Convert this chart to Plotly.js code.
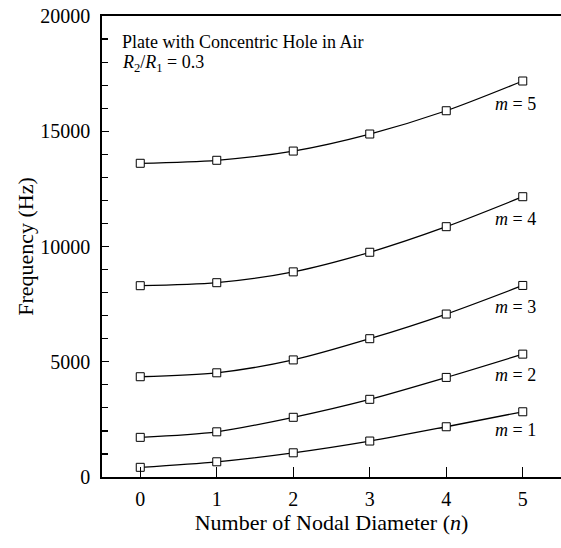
<!DOCTYPE html>
<html>
<head>
<meta charset="utf-8">
<script src="https://cdn.plot.ly/plotly-3.0.1.min.js"></script>
<style>html,body{margin:0;padding:0;background:#fff;}#chart{width:561px;height:548px;}</style>
</head>
<body>
<div id="chart"></div>
<script>
// Number of nodal diameters
const nodalDiameter = [0, 1, 2, 3, 4, 5];
// Frequencies (Hz) for each nodal circle count m
const freqM1 = [420, 660, 1050, 1560, 2180, 2830];
const freqM2 = [1720, 1960, 2590, 3370, 4320, 5330];
const freqM3 = [4350, 4520, 5080, 6000, 7070, 8310];
const freqM4 = [8300, 8430, 8900, 9750, 10860, 12160];
const freqM5 = [13610, 13740, 14140, 14880, 15890, 17180];
const seriesNames = ["m = 1", "m = 2", "m = 3", "m = 4", "m = 5"];
const yTickVals = [0, 5000, 10000, 15000, 20000];
const yTickText = ["0", "5000", "10000", "15000", "20000"];
const xTickVals = [0, 1, 2, 3, 4, 5];

const allSeries = [freqM1, freqM2, freqM3, freqM4, freqM5];
const FONT = "Liberation Serif, Times New Roman, Times, serif";

const traces = allSeries.map((ys, i) => ({
  x: nodalDiameter,
  y: ys,
  name: seriesNames[i],
  type: "scatter",
  mode: "lines+markers",
  line: {color: "#000", width: 1.3, shape: "spline", smoothing: 0.8},
  marker: {symbol: "square", size: 8, color: "#fff", line: {color: "#000", width: 1}},
  showlegend: false,
  hoverinfo: "x+y"
}));

// label positions (data coords) for the m = k labels
const labelY = [2040, 4420, 7380, 11190, 16180];
const annotations = seriesNames.map((name, i) => ({
  x: 4.9, y: labelY[i], xref: "x", yref: "y",
  text: "<i>m</i> = " + (i + 1),
  showarrow: false, xanchor: "center", yanchor: "middle",
  font: {family: FONT, size: 18, color: "#000"}
}));
annotations.push({
  xref: "paper", yref: "paper", x: 0.039, y: 0.943,
  text: "Plate with Concentric Hole in Air",
  showarrow: false, xanchor: "left", yanchor: "middle",
  font: {family: FONT, size: 18, color: "#000"}
});
annotations.push({
  xref: "paper", yref: "paper", x: 0.039, y: 0.898,
  text: "<i>R</i><sub>2</sub>/<i>R</i><sub>1</sub> = 0.3",
  showarrow: false, xanchor: "left", yanchor: "middle",
  font: {family: FONT, size: 18, color: "#000"}
});

const layout = {
  width: 561, height: 548,
  margin: {l: 102, r: 0, t: 16, b: 71, pad: 0},
  paper_bgcolor: "#fff", plot_bgcolor: "#fff",
  font: {family: FONT, color: "#000"},
  xaxis: {
    range: [-0.5, 5.5], tickvals: xTickVals, ticks: "inside", ticklen: 10, tickwidth: 1.3,
    tickcolor: "#000", showline: true, linecolor: "#000", linewidth: 1.8, mirror: true,
    showgrid: false, zeroline: false, tickfont: {family: FONT, size: 20, color: "#000"},
    ticklabelstandoff: 3,
    title: {text: "Number of Nodal Diameter (<i>n</i>)", font: {family: FONT, size: 22, color: "#000"}, standoff: 4}
  },
  yaxis: {
    range: [0, 20000], tickvals: yTickVals, ticktext: yTickText, ticks: "inside", ticklen: 7, tickwidth: 1.3,
    tickcolor: "#000", showline: true, linecolor: "#000", linewidth: 1.8,
    showgrid: false, zeroline: false, tickfont: {family: FONT, size: 20, color: "#000"},
    ticklabelstandoff: 6,
    minor: {dtick: 1000, ticks: "inside", ticklen: 6, tickwidth: 1.2, tickcolor: "#000", showgrid: false},
    title: {text: "Frequency (Hz)", font: {family: FONT, size: 22, color: "#000"}, standoff: 0}
  },
  annotations: annotations
};

Plotly.newPlot("chart", traces, layout, {displayModeBar: false, staticPlot: true});
</script>
</body>
</html>
